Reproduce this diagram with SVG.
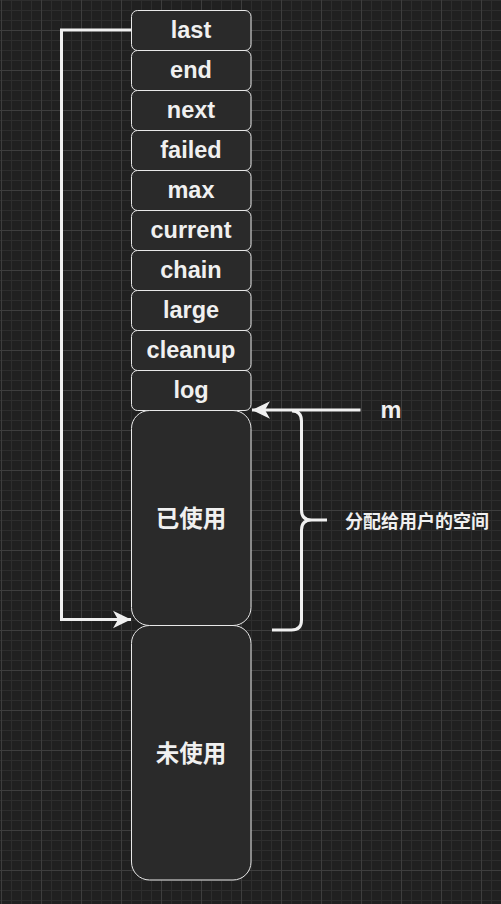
<svg xmlns="http://www.w3.org/2000/svg" width="501" height="904" viewBox="0 0 501 904">
<defs>
<pattern id="minor" x="1" y="0" width="10" height="10" patternUnits="userSpaceOnUse">
<path d="M0.5,0 V10 M0,0.5 H10" stroke="#2d2d2d" stroke-width="1" fill="none"/>
</pattern>
<pattern id="major" x="1" y="30" width="40" height="40" patternUnits="userSpaceOnUse">
<path d="M0.5,0 V40 M0,0.5 H40" stroke="#3e3e3e" stroke-width="1" fill="none"/>
</pattern>
<marker id="arr" markerUnits="userSpaceOnUse" markerWidth="20" markerHeight="20" viewBox="-19 -10 20 20" refX="0" refY="0" orient="auto">
<path d="M0,0 L-18,-8.7 L-13,0 L-18,8.7 Z" fill="#f0f0f0"/>
</marker>
</defs>
<style>
.box{fill:#2a2a2a;stroke:#e8e8e8;stroke-width:1}
.lbl{font-family:"Liberation Sans",Arial,sans-serif;font-weight:bold;font-size:23.5px;fill:#f0f0f0;text-anchor:middle}
.cjk{font-family:"Noto Sans CJK SC",sans-serif;font-weight:bold;fill:#f0f0f0}
.edge{fill:none;stroke:#f0f0f0;stroke-width:3}
</style>
<rect width="501" height="904" fill="#202020"/>
<rect width="501" height="904" fill="url(#minor)"/>
<rect width="501" height="904" fill="url(#major)"/>

<g id="node-last"><rect class="box" x="131.5" y="10.5" width="119.5" height="40" rx="6"/><text class="lbl" x="191" y="37.5">last</text></g>
<g id="node-end"><rect class="box" x="131.5" y="50.5" width="119.5" height="40" rx="6"/><text class="lbl" x="191" y="77.5">end</text></g>
<g id="node-next"><rect class="box" x="131.5" y="90.5" width="119.5" height="40" rx="6"/><text class="lbl" x="191" y="117.5">next</text></g>
<g id="node-failed"><rect class="box" x="131.5" y="130.5" width="119.5" height="40" rx="6"/><text class="lbl" x="191" y="157.5">failed</text></g>
<g id="node-max"><rect class="box" x="131.5" y="170.5" width="119.5" height="40" rx="6"/><text class="lbl" x="191" y="197.5">max</text></g>
<g id="node-current"><rect class="box" x="131.5" y="210.5" width="119.5" height="40" rx="6"/><text class="lbl" x="191" y="237.5">current</text></g>
<g id="node-chain"><rect class="box" x="131.5" y="250.5" width="119.5" height="40" rx="6"/><text class="lbl" x="191" y="277.5">chain</text></g>
<g id="node-large"><rect class="box" x="131.5" y="290.5" width="119.5" height="40" rx="6"/><text class="lbl" x="191" y="317.5">large</text></g>
<g id="node-cleanup"><rect class="box" x="131.5" y="330.5" width="119.5" height="40" rx="6"/><text class="lbl" x="191" y="357.5">cleanup</text></g>
<g id="node-log"><rect class="box" x="131.5" y="370.5" width="119.5" height="40" rx="6"/><text class="lbl" x="191" y="397.5">log</text></g>
<g id="node-used"><rect class="box" x="131.5" y="410.5" width="119.5" height="215" rx="18"/><text class="cjk" x="191" y="517" font-size="23.5" text-anchor="middle" dominant-baseline="central">已使用</text></g>
<g id="node-unused"><rect class="box" x="131.5" y="625.5" width="119.5" height="254.5" rx="18"/><text class="cjk" x="191" y="752" font-size="23.5" text-anchor="middle" dominant-baseline="central">未使用</text></g>
<g id="node-m"><text class="lbl" x="391" y="418" font-size="22">m</text></g>
<g id="node-brace"><path class="edge" d="M292,411 Q301.5,411 301.5,421 L301.5,510 Q301.5,520 311.5,520 L327,520 M311.5,520 Q301.5,520 301.5,530 L301.5,620 Q301.5,630 291.5,630 L272,630"/></g>
<g id="node-space"><text class="cjk" x="345" y="520" font-size="18" dominant-baseline="central">分配给用户的空间</text></g>

<g id="connectors">
<path class="edge" d="M131,30 H61.5 V619.5 H131" marker-end="url(#arr)"/>
<path class="edge" d="M360.5,410 H252" marker-end="url(#arr)"/>
</g>
</svg>
